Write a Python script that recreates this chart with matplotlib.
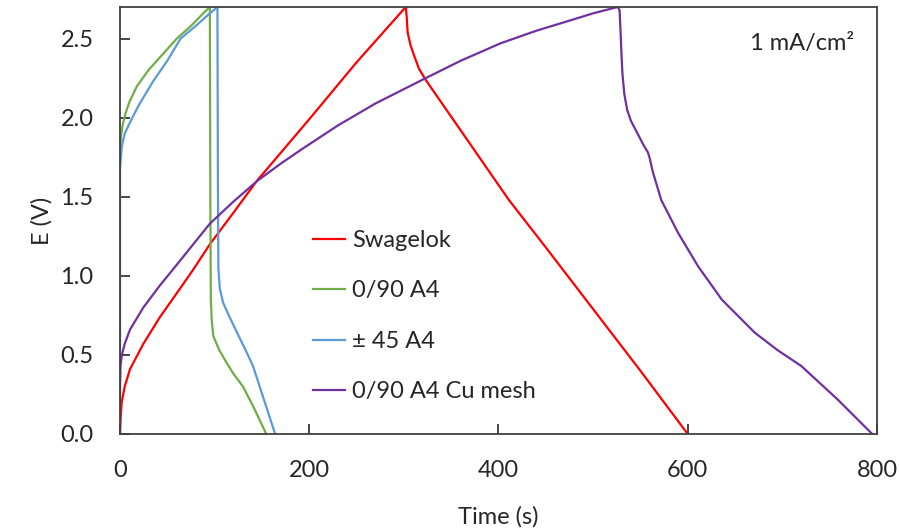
import matplotlib.pyplot as plt

plt.rcParams['font.family'] = ['Lato', 'DejaVu Sans']

# Swagelok
swag_t = [0, 0.5, 1.8, 5, 10.6, 24.7, 42.3, 60, 77.5, 95, 120, 144.6, 173, 200, 250, 302,
          303, 304, 307, 311, 316, 323, 345, 367, 411, 450, 500, 550, 600]
swag_E = [0, 0.08, 0.2, 0.3, 0.41, 0.57, 0.74, 0.89, 1.04, 1.2, 1.4, 1.6, 1.8, 1.99, 2.35, 2.7,
          2.64, 2.54, 2.46, 2.39, 2.31, 2.24, 2.05, 1.86, 1.48, 1.18, 0.79, 0.4, 0.0]

# 0/90 A4
a090_t = [0, 0, 1, 3, 6, 10, 18, 30, 45, 60, 75, 88, 95,
          95.5, 96, 97, 98.6, 105, 112.7, 120, 130, 142, 154.6]
a090_E = [0, 1.78, 1.88, 1.96, 2.03, 2.1, 2.2, 2.3, 2.4, 2.5, 2.58, 2.66, 2.7,
          1.5, 0.85, 0.72, 0.62, 0.53, 0.45, 0.38, 0.3, 0.16, 0.0]

# ± 45 A4
a45_t = [0, 0, 2, 5, 13, 20, 35, 50, 64, 80, 95, 103,
         103.5, 104, 105.5, 109, 115, 123, 132, 140.6, 152, 164]
a45_E = [0, 1.68, 1.82, 1.9, 2.0, 2.08, 2.23, 2.36, 2.5, 2.58, 2.66, 2.7,
         1.6, 1.05, 0.92, 0.83, 0.75, 0.65, 0.54, 0.43, 0.22, 0.0]

# 0/90 A4 Cu mesh
cu_t = [0, 0, 0.5, 2, 5, 10.6, 24.7, 42.3, 60, 77.5, 95, 120, 145, 170, 192, 230, 270, 323,
        360, 402, 440, 473, 500, 526,
        528, 529, 530, 531, 533, 536, 540, 547, 553, 558, 560, 563, 572, 590, 611, 636, 671,
        695, 720, 759, 795]
cu_E = [0, 0.3, 0.43, 0.5, 0.57, 0.66, 0.8, 0.94, 1.07, 1.2, 1.33, 1.47, 1.6, 1.71, 1.8, 1.95,
        2.09, 2.25, 2.36, 2.47, 2.55, 2.61, 2.66, 2.7,
        2.68, 2.55, 2.4, 2.28, 2.15, 2.05, 1.98, 1.9, 1.83, 1.78, 1.74, 1.66, 1.48, 1.27, 1.06,
        0.85, 0.64, 0.53, 0.43, 0.215, 0.0]

x_ticks = [0, 200, 400, 600, 800]
y_ticks = [0.0, 0.5, 1.0, 1.5, 2.0, 2.5]

fig = plt.figure(figsize=(9, 5.31), dpi=100)
ax = fig.add_axes([0.1333, 0.1827, 0.8411, 0.8041])

ax.plot(swag_t, swag_E, color='#FF0000', lw=1.6, label='Swagelok')
ax.plot(a090_t, a090_E, color='#70AD47', lw=1.6, label='0/90 A4')
ax.plot(a45_t, a45_E, color='#5B9BD5', lw=1.6, label='± 45 A4')
ax.plot(cu_t, cu_E, color='#7030A0', lw=1.6, label='0/90 A4 Cu mesh')

ax.set_xlim(0, 800)
ax.set_ylim(0, 2.7)
ax.set_xticks(x_ticks)
ax.set_yticks(y_ticks)
ax.set_yticklabels([f'{v:.1f}' for v in y_ticks])
ax.tick_params(direction='in', length=7, width=1.2, labelsize=17, pad=19, colors='#262626')
for s in ax.spines.values():
    s.set_color('#404040')
    s.set_linewidth(1.3)

ax.set_xlabel('Time (s)', fontsize=17, color='#262626', labelpad=18)
ax.set_ylabel('E (V)', fontsize=17, color='#262626', labelpad=6)

ax.text(0.97, 0.915, '1 mA/cm²', transform=ax.transAxes, ha='right', va='center',
        fontsize=17, color='#262626')

leg = ax.legend(loc='upper left', bbox_to_anchor=(0.243, 0.5), frameon=False, fontsize=17,
                handlelength=1.35, handletextpad=0.3, labelspacing=1.25, borderaxespad=0)
for t in leg.get_texts():
    t.set_color('#262626')

fig.savefig('out.png', dpi=100)
